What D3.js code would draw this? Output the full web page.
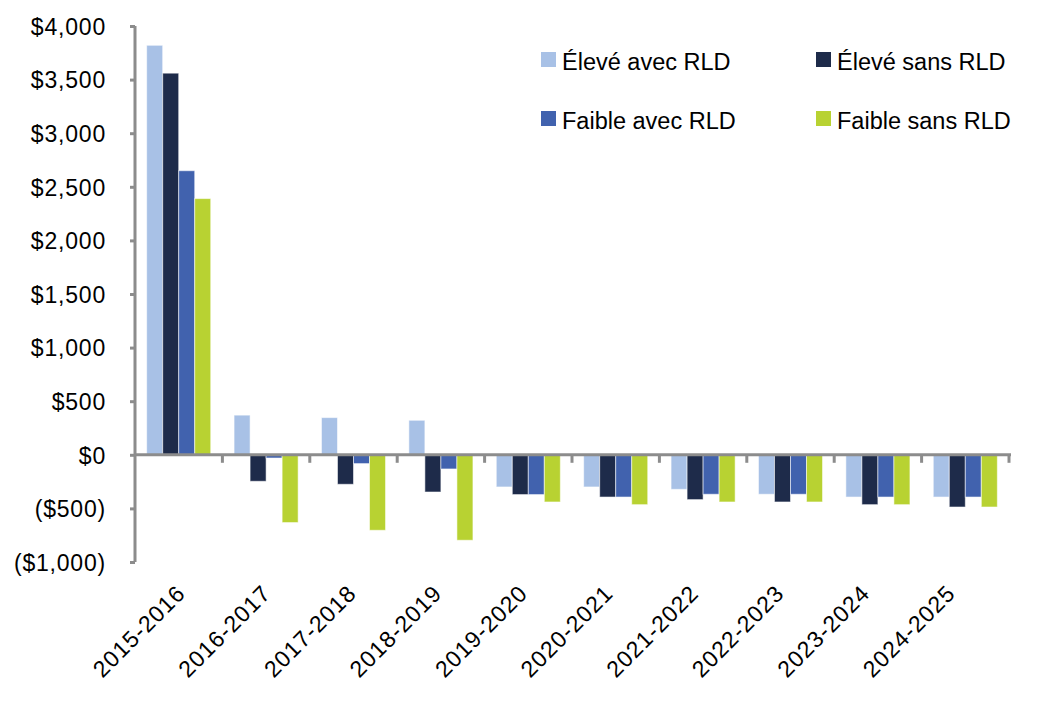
<!DOCTYPE html>
<html>
<head>
<meta charset="utf-8">
<script src="https://cdn.jsdelivr.net/npm/d3@7"></script>
<style>
  body { margin: 0; background: #fff; }
  text { font-family: "Liberation Sans", Arial, sans-serif; fill: #000; }
</style>
</head>
<body>
<div id="chart"></div>
<script>
// values
const years = ['2015-2016','2016-2017','2017-2018','2018-2019','2019-2020',
               '2020-2021','2021-2022','2022-2023','2023-2024','2024-2025']
const seriesNames = ['Élevé avec RLD','Élevé sans RLD','Faible avec RLD','Faible sans RLD']
const eleveAvec  = [3820,  370,  347,  322, -300, -300, -322, -368, -394, -394]
const eleveSans  = [3560, -247, -275, -347, -371, -394, -418, -440, -465, -487]
const faibleAvec = [2650,  -30,  -82, -132, -371, -394, -368, -368, -394, -394]
const faibleSans = [2390, -632, -704, -797, -440, -465, -440, -440, -465, -487]
const yTicks = [-1000, -500, 0, 500, 1000, 1500, 2000, 2500, 3000, 3500, 4000]
const colors = ['#a8c1e6', '#1e2b4a', '#4162ae', '#b8d232']

const width = 1047
const height = 706
const seriesVals = [eleveAvec, eleveSans, faibleAvec, faibleSans]

const svg = d3.select('#chart')
    .append('svg')
    .attr('width', width)
    .attr('height', height)

const x = d3.scaleBand()
    .domain(years)
    .range([135, 1009])
    .paddingInner(0.267)
    .paddingOuter(0.1335)

const xSub = d3.scaleBand()
    .domain(seriesNames)
    .range([0, x.bandwidth()])

// labels sit on a slightly tighter spacing than the bars
const xLabel = d3.scalePoint()
    .domain(years)
    .range([181, 951])

const y = d3.scaleLinear()
    .domain([-1000, 4000])
    .range([562, 26])

const step = (1009 - 135) / years.length

// bars
seriesNames.forEach((name, si) => {
    svg.append('g')
        .selectAll('rect')
        .data(seriesVals[si])
        .join('rect')
        .attr('x', (d, i) => x(years[i]) + xSub(name))
        .attr('width', xSub.bandwidth())
        .attr('y', d => Math.min(y(d), y(0)))
        .attr('height', d => Math.abs(y(d) - y(0)))
        .attr('fill', colors[si])
        .attr('stroke', 'rgba(255,255,255,0.55)')
        .attr('stroke-width', 1)
})

// y axis
const yAxis = svg.append('g')
    .attr('transform', 'translate(135,0)')
    .call(d3.axisLeft(y).tickValues(yTicks).tickSize(5).tickPadding(24)
        .tickFormat(d => d < 0 ? '($' + d3.format(',')(-d) + ')' : '$' + d3.format(',')(d)))
yAxis.select('.domain')
    .attr('stroke', '#8c8c8c')
    .attr('stroke-width', 3)
    .attr('d', `M0,${y(4000)}V${y(-1000)}`)
yAxis.selectAll('.tick line').attr('stroke', '#8c8c8c').attr('stroke-width', 3)
yAxis.selectAll('.tick text')
    .style('font-size', '23px')
    .style('letter-spacing', '0.8px')
    .attr('dy', '0.36em')

// zero line with category ticks
const zero = svg.append('g')
svg.append('line')
    .attr('x1', 135).attr('x2', 1011)
    .attr('y1', y(0)).attr('y2', y(0))
    .attr('stroke', '#8c8c8c')
    .attr('stroke-width', 3)
zero.selectAll('line')
    .data(d3.range(1, years.length + 1))
    .join('line')
    .attr('x1', d => 135 + d * step)
    .attr('x2', d => 135 + d * step)
    .attr('y1', y(0))
    .attr('y2', y(0) + 8)
    .attr('stroke', '#8c8c8c')
    .attr('stroke-width', 3)

// category labels
svg.append('g')
    .selectAll('text')
    .data(years)
    .join('text')
    .attr('transform', d => `translate(${xLabel(d)},${589}) rotate(-45)`)
    .attr('text-anchor', 'end')
    .attr('dy', '0.35em')
    .style('font-size', '23px')
    .style('letter-spacing', '1px')
    .text(d => d)

// legend
const legendPos = [[541, 52], [816, 52], [541, 111], [816, 111]]
const legend = svg.append('g')
seriesNames.forEach((name, i) => {
    const g = legend.append('g')
        .attr('transform', `translate(${legendPos[i][0]},${legendPos[i][1]})`)
    g.append('rect')
        .attr('width', 15)
        .attr('height', 15)
        .attr('fill', colors[i])
    g.append('text')
        .attr('x', 21)
        .attr('y', 18)
        .style('font-size', '23.5px')
        .text(name)
})
</script>
</body>
</html>
